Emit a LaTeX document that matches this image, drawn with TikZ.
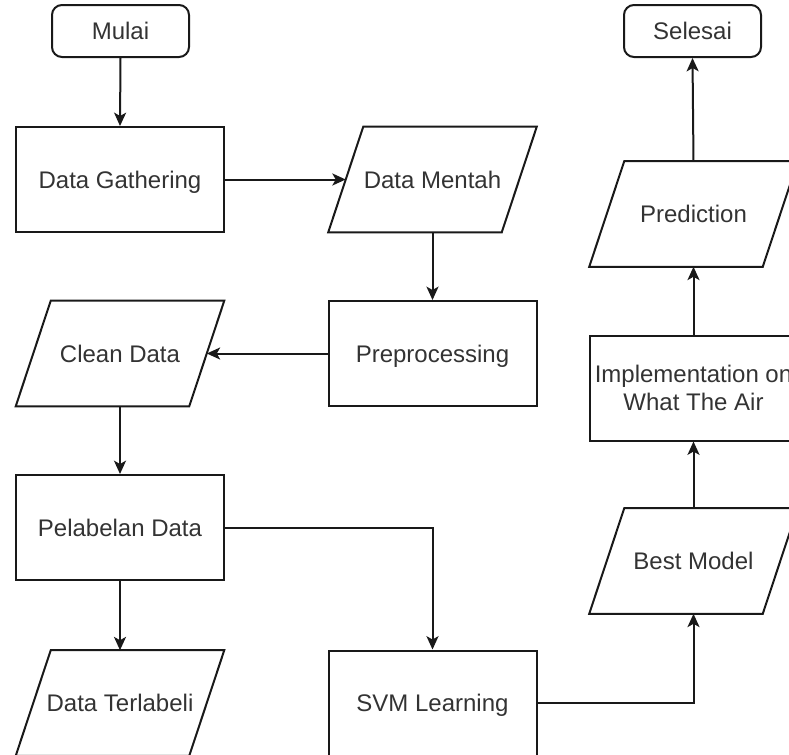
\documentclass[tikz,border=0pt]{standalone}
\usepackage{fontspec}
\setmainfont{Liberation Sans}
\usetikzlibrary{arrows.meta}
\begin{document}
\begin{tikzpicture}[
  x=0.75pt, y=-0.75pt,
  every node/.style={font=\fontsize{18}{21}\selectfont, text=black!80, inner sep=0pt},
  oneline/.style={text height=12.9pt, text depth=0pt},
  outline/.style={draw=black!90, line width=1.5pt},
  term/.style={outline, oneline, rounded corners=7.5pt, minimum width=102.75pt, minimum height=39pt},
  box/.style={outline, oneline, minimum width=156pt, minimum height=78.75pt},
  boxml/.style={outline, align=center, minimum width=156pt, minimum height=78.75pt},
  io/.style={oneline, minimum width=156pt, minimum height=78.75pt},
  flow/.style={draw=black!90, line width=1.5pt, -{Stealth[length=10pt, width=9pt, inset=2.5pt]}},
]
% page area
\useasboundingbox (0,0) rectangle (789,754);
\clip (0,0) rectangle (789,754);

% terminals
\node[term] (mulai)   at (120.5,31) {Mulai};
\node[term] (selesai) at (692.5,31) {Selesai};

% left column
\node[box] (dg)  at (120,179.5) {Data Gathering};
\node[io]  (cd)  at (120,353.5) {Clean Data};
\node[box] (pel) at (120,527.5) {Pelabelan Data};
\node[io]  (dt)  at (120,703)   {Data Terlabeli};

% middle column
\node[io]  (dm)  at (432.5,179.5) {Data Mentah};
\node[box] (pp)  at (432.5,353.5) {Preprocessing};
\node[box] (svm) at (432.5,703)   {SVM Learning};

% right column
\node[io]    (pred) at (693.5,214) {Prediction};
\node[boxml] (impl) at (693.5,388) {Implementation on\\What The Air};
\node[io]    (bm)   at (693.5,561) {Best Model};

% data (parallelogram) outlines
\foreach \n in {dm,cd,dt,pred,bm}
  \draw[outline] ([xshift=26.25pt]\n.north west) -- (\n.north east)
    -- ([xshift=-26.25pt]\n.south east) -- (\n.south west) -- cycle;

% connectors
\draw[flow] (mulai.south) -- (dg.north);
\draw[flow] (dg.east) -- ([xshift=13.1pt]dm.west);
\draw[flow] (dm.south) -- (pp.north);
\draw[flow] (pp.west) -- ([xshift=-13.1pt]cd.east);
\draw[flow] (cd.south) -- (pel.north);
\draw[flow] (pel.south) -- (dt.north);
\draw[flow] (pel.east) -| (svm.north);
\draw[flow] (svm.east) -| (bm.south);
\draw[flow] (bm.north) -- (impl.south);
\draw[flow] (impl.north) -- (pred.south);
\draw[flow] (pred.north) -- (selesai.south);
\end{tikzpicture}
\end{document}
